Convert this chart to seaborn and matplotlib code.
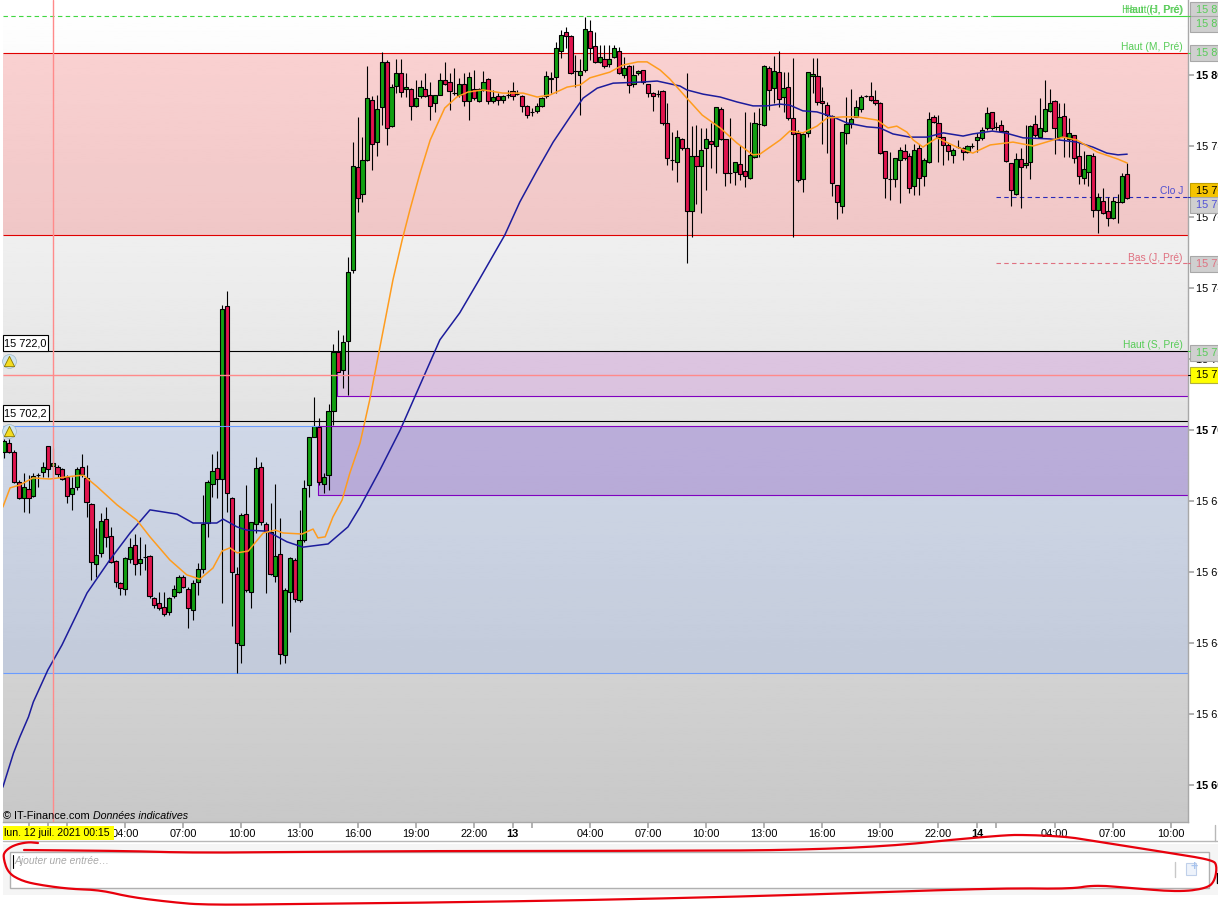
import numpy as np
import matplotlib
matplotlib.use("Agg")
import matplotlib.pyplot as plt
from matplotlib.patches import Rectangle
import seaborn as sns

# All prices are points above this base
BASE = 15000

open_ = [
693.9,696.4,693.9,685.3,680.8,683.4,681.5,687.2,688.1,695.6,
689.9,689.7,688.9,686.9,681.9,684.0,689.7,686.6,679.1,662.2,
665.3,675.0,670.0,663.2,656.8,655.1,663.6,667.7,662.6,664.1,
664.6,652.6,651.2,650.2,648.6,653.1,654.5,658.7,655.1,649.2,
657.3,660.8,673.7,684.8,689.2,686.1,735.0,680.9,659.3,639.3,
676.2,654.3,673.4,689.7,673.4,671.4,658.8,665.0,636.5,654.3,
663.3,652.0,668.9,684.4,698.1,700.8,684.7,687.2,705.3,722.0,
716.9,725.0,745.0,774.0,766.4,776.0,792.9,781.0,790.9,803.6,
785.5,797.0,800.5,796.0,796.0,791.4,794.0,796.0,794.5,792.0,
794.5,798.5,797.9,794.8,794.5,797.4,792.6,796.1,792.6,795.7,
798.8,792.6,794.0,792.9,794.4,795.4,794.7,794.0,791.4,789.7,
790.0,791.2,794.0,798.8,799.3,806.9,812.0,810.9,801.0,799.9,
801.3,812.3,808.1,803.6,804.4,803.0,805.0,806.9,799.9,802.4,
797.4,800.5,801.3,797.4,794.8,794.6,795.4,786.4,776.0,775.4,
781.9,779.3,761.6,777.1,774.3,779.3,781.3,779.9,790.3,781.9,
772.3,772.8,774.8,772.9,770.9,776.8,786.2,785.8,801.9,796.2,
800.8,793.7,796.5,787.8,783.6,770.6,783.6,799.6,799.6,792.6,
791.5,788.4,769.0,763.0,783.6,786.1,788.1,790.3,794.0,794.0,
792.9,792.0,778.5,770.7,770.6,776.0,778.5,777.1,768.6,779.3,
771.5,775.4,788.1,786.4,782.4,780.2,777.6,779.7,779.3,778.4,
779.9,781.6,782.2,785.0,789.5,785.3,785.8,784.1,775.1,766.6,
776.2,774.6,775.4,786.1,782.4,784.3,790.0,792.6,782.4,788.4,
781.9,783.0,777.1,770.9,772.6,777.1,761.9,764.4,761.6,759.6,
764.3,764.1,772.0]

close = [
697.0,693.9,685.3,680.8,684.0,680.8,687.1,687.4,689.7,688.9,
690.6,687.5,686.2,681.5,683.6,688.9,687.5,679.6,662.7,664.7,
674.5,669.8,662.7,657.1,655.6,664.0,667.1,662.2,663.6,664.1,
653.1,650.6,649.8,648.1,652.6,655.1,658.7,655.7,649.8,656.8,
660.8,673.4,685.3,688.5,686.1,734.0,682.2,659.9,639.9,676.0,
654.8,674.0,689.2,674.0,671.6,659.3,664.4,636.8,654.8,663.9,
652.3,668.9,683.8,697.9,701.1,685.3,686.9,705.3,722.0,716.3,
724.7,744.4,774.5,765.4,776.0,793.4,780.5,790.3,803.8,785.0,
796.5,800.5,795.3,796.5,791.4,793.4,796.5,794.0,791.4,794.5,
798.5,797.4,795.4,794.8,797.4,792.6,799.3,793.4,796.0,797.9,
792.6,793.7,792.9,794.0,794.4,794.0,794.7,791.4,788.6,789.7,
791.2,793.4,799.6,799.1,807.5,811.4,810.9,800.5,801.0,801.0,
812.9,807.5,803.8,805.0,802.4,804.4,807.5,800.5,801.9,797.1,
799.9,801.0,797.9,794.8,794.0,794.6,786.4,776.5,776.0,782.4,
779.3,761.6,777.1,774.3,778.8,781.9,780.5,790.9,781.9,772.3,
772.3,775.4,772.0,771.5,777.4,786.4,786.2,802.5,795.9,801.0,
793.1,796.3,787.8,783.3,770.3,783.3,800.8,800.2,792.3,792.0,
788.6,769.5,764.1,783.9,786.1,787.5,790.9,793.9,794.0,792.9,
792.0,777.9,770.9,770.7,776.5,779.0,776.5,768.1,779.0,770.9,
776.0,787.5,786.9,782.4,780.2,778.5,779.0,779.7,778.2,779.9,
779.9,782.4,784.4,789.2,785.0,785.3,784.1,775.7,767.5,776.2,
774.0,775.1,785.5,783.0,785.0,790.3,792.0,785.0,788.1,782.4,
783.6,776.6,771.5,773.4,777.4,761.9,765.5,761.0,759.6,764.4,
764.3,771.5,765.3]

high = [
697.6,697.6,694.4,685.9,687.8,687.3,687.8,687.8,691.1,695.6,
694.8,690.1,689.2,687.3,686.9,689.7,693.2,690.1,679.3,672.3,
676.5,678.4,672.8,663.4,657.3,664.3,669.5,670.7,670.0,667.8,
664.8,653.0,654.3,654.3,653.0,656.3,659.2,659.2,655.9,657.7,
662.4,681.7,685.9,693.2,694.1,735.2,739.2,681.2,661.3,676.5,
684.5,674.2,692.3,691.1,674.2,679.3,684.7,675.1,655.4,664.3,
663.9,677.5,685.9,698.1,709.4,703.3,687.8,707.3,724.2,728.2,
726.8,748.8,781.0,788.3,782.6,802.5,794.1,794.3,806.4,804.2,
797.6,804.4,804.4,800.5,796.2,798.6,798.6,800.5,798.1,794.5,
800.5,803.6,800.5,801.9,799.1,800.6,800.9,801.4,796.2,801.1,
799.1,795.8,794.8,794.4,795.8,798.0,795.8,794.4,791.5,790.6,
792.0,793.9,801.1,800.9,809.4,812.7,813.4,811.2,805.6,804.4,
816.4,815.5,812.2,808.4,808.4,808.4,808.4,808.0,805.2,802.8,
802.8,801.4,801.4,797.6,795.3,795.8,795.8,792.0,784.0,784.5,
782.2,800.5,785.7,785.9,785.0,785.0,786.4,791.1,791.1,781.9,
787.8,775.6,780.3,789.7,786.9,789.7,790.6,802.8,802.4,805.4,
806.8,800.9,800.9,804.7,784.5,783.6,800.9,804.7,804.7,796.7,
792.5,788.7,769.0,784.0,793.9,796.0,793.0,794.4,794.4,798.0,
795.8,792.5,778.5,778.4,776.7,779.6,780.7,777.9,780.7,780.7,
776.5,789.5,788.7,788.7,782.6,780.8,779.3,781.7,779.8,780.3,
780.8,783.6,785.4,791.1,789.7,786.9,787.3,784.5,775.1,777.9,
779.3,785.9,785.9,788.7,793.4,798.6,796.0,792.9,792.0,792.0,
787.8,783.2,781.2,778.5,777.5,777.9,766.7,768.1,765.6,765.6,
766.5,772.3,775.1]

low = [
692.0,693.4,685.2,680.7,677.0,676.5,681.2,684.0,686.9,686.9,
686.9,686.9,685.9,679.3,677.5,683.1,686.9,675.6,657.7,658.7,
664.3,667.1,662.4,655.9,653.5,653.5,662.4,659.2,659.2,660.6,
652.6,649.8,649.3,647.6,647.9,652.6,654.0,655.4,644.1,646.5,
653.5,659.6,670.0,681.2,680.8,651.2,677.0,644.9,631.6,634.3,
654.5,649.8,670.9,673.2,654.2,659.2,657.3,634.1,634.3,643.2,
651.6,651.6,668.5,681.2,698.1,684.5,682.2,683.1,701.4,716.3,
711.7,709.9,744.1,761.5,764.3,775.9,773.2,777.2,785.9,780.3,
785.4,794.8,793.7,793.9,787.3,791.0,793.4,793.7,787.3,789.7,
794.4,797.2,790.1,794.4,793.7,791.3,787.3,792.9,792.4,795.5,
791.7,792.0,791.5,792.0,793.4,792.9,794.4,789.7,787.8,788.4,
789.2,790.9,793.4,794.8,794.8,804.7,807.5,800.3,796.7,788.7,
800.9,804.2,803.5,803.3,801.9,802.3,804.7,800.3,799.1,794.8,
796.5,800.0,797.6,793.9,789.8,793.9,785.9,774.6,773.2,769.9,
778.9,747.0,754.5,763.8,761.0,767.6,773.7,772.3,781.7,768.8,
769.5,769.0,770.4,768.5,770.6,776.5,777.0,785.6,790.1,792.0,
791.1,789.7,787.3,754.3,770.0,767.1,782.6,794.8,791.5,780.7,
777.9,766.0,759.5,761.0,780.7,785.0,788.1,789.7,793.7,792.7,
791.5,777.7,765.3,764.8,768.5,764.0,776.1,766.7,766.1,766.2,
768.8,775.1,786.4,775.6,774.6,776.1,775.1,779.3,776.1,777.9,
779.3,778.4,781.7,784.5,784.5,784.5,784.0,775.5,763.1,766.2,
762.4,773.7,770.7,782.6,782.2,784.0,789.7,777.8,782.0,777.0,
777.0,775.3,769.3,769.3,768.6,759.9,755.4,760.9,757.6,759.5,
758.4,764.0,765.0]

# slow moving average (bar position, price above BASE)
slow_bar = [-0.3,1.9,3.2,5,6,9,11.9,17.1,21.8,26,30.1,35.7,39,43.9,45.2,48.1,50.1,54.3,58.4,61.7,66.9,
            71,73.5,77.6,81.8,85.9,90,94.1,98.1,103.4,106.5,110.1,113.4,116.9,119.6,122.5,125.8,131.4,134.9,139.6,141,
            144.4,147.9,151.4,154.7,157.6,160.3,162.3,165,167.9,171.2,174.1,178.2,180.9,183.6,187.1,190.6,194,198.1,200.1,204.1,
            206.8,210.5,216,221.6,224.9,227.8,230.1,232]
slow_val = [599.4,609.0,613.5,619.2,623.4,632.4,639.4,654.1,663.4,671.0,677.5,676.3,673.8,673.8,674.9,672.7,671.8,671.5,668.5,667.0,667.9,
            672.7,678.3,688.7,700.0,712.7,725.4,733.0,742.3,754.9,764.2,773.2,781.1,788.2,793.5,796.3,797.7,798.0,798.3,796.9,795.8,
            794.6,793.8,792.4,791.3,791.3,791.8,791.5,789.9,789.6,788.2,786.5,785.4,785.1,783.4,782.5,782.5,783.7,782.8,783.4,784.2,
            783.7,782.3,782.0,781.1,779.7,778.0,777.5,777.7]

# fast moving average (bar position, price above BASE)
fast_bar = [-0.3,1.2,3.2,5.9,9.4,13,16.3,19.2,23.3,27.4,30.1,34.2,37.7,40.4,43.1,45,46.6,48.1,50.4,53.5,
            56,57.6,61.5,63.8,64.8,66.3,67.9,69.8,71.4,73.5,75.5,78.7,80.3,82.2,83.8,85.9,88,91,93.5,95.8,
            98.9,103,107.2,110.1,112.8,116.3,119,121,125.1,127.8,130.9,132.8,135.5,137.5,141,144.2,147.9,151.4,154.7,156.1,
            160.3,162.3,165,167.9,170,173.3,176.2,180.3,182.6,184.4,186.5,187.8,189.8,192.7,196.8,200.1,203.7,208.4,212.6,218.7,
            221.6,225.8,230.1,232]
fast_val = [678.3,683.7,684.5,686.5,686.2,686.8,687.3,684.0,678.9,674.6,669.9,663.4,659.2,658.0,661.1,665.9,666.8,665.4,665.9,671.0,
            671.8,671.0,670.7,672.1,669.6,669.9,675.5,680.3,687.9,696.3,708.5,731.0,742.3,753.5,762.0,772.4,781.7,790.7,793.8,795.2,
            795.8,794.9,794.9,793.8,794.4,796.6,797.2,799.2,800.8,802.8,803.7,803.7,801.4,798.9,793.5,788.7,785.1,780.8,777.5,777.7,
            781.7,784.2,783.7,785.6,787.9,788.2,788.2,787.3,785.1,785.6,783.9,781.7,779.7,782.3,779.7,778.0,780.3,781.1,780.0,782.5,
            781.7,778.3,776.3,775.2]

# x axis labels: hour counted from 12 July 00:00
tick_hours = [-1, 0, 1, 4, 7, 10, 13, 16, 19, 22, 24, 25, 28, 31, 34, 37, 40, 43, 46, 48, 49, 52, 55, 58]
tick_names = ["", "", "", "04:00", "07:00", "10:00", "13:00", "16:00", "19:00", "22:00", "13", "", "04:00", "07:00",
              "10:00", "13:00", "16:00", "19:00", "22:00", "14", "", "04:00", "07:00", "10:00"]
BOLD_TIME = {"13", "14"}

price_ticks = [15800, 15780, 15760, 15740, 15720, 15700, 15680, 15660, 15640, 15620, 15600]
BOLD_PRICE = {15800, 15700, 15600}

# horizontal levels
LEVEL_TOP = 15816.6
LEVEL_RED_HI = 15806.2
LEVEL_RED_LO = 15754.9
LEVEL_CLO = 15765.6
LEVEL_BAS = 15747.0
LEVEL_A = 15722.25
LEVEL_CROSS = 15715.5
LEVEL_B = 15702.5
LEVEL_BLUE_HI = 15701.1
LEVEL_BLUE_LO = 15631.5
RECT1_LO = 15709.6
RECT2_LO = 15681.7

W, H = 1218, 906
PXL, PXR, PXB = 3, 1188, 822
BAR0, BARW = 4.3, 4.84

sns.set_theme(style="white")
plt.rcParams["font.family"] = ["Liberation Sans", "DejaVu Sans"]
FS = 7.9
FS_R = 7.4

fig = plt.figure(figsize=(W / 100, H / 100), dpi=100, facecolor="white")
ax = fig.add_axes([PXL / W, 1 - PXB / H, (PXR - PXL) / W, PXB / H])
x0, x1 = (PXL - BAR0) / BARW, (PXR - BAR0) / BARW
y_top = 15800 + 75 / 3.55
y_bot = 15800 - (PXB - 75) / 3.55
ax.set_xlim(x0, x1)
ax.set_ylim(y_bot, y_top)

# background gradient white -> grey
grad = np.linspace(1.0, 200 / 255, 512)[:, None]
ax.imshow(grad, cmap="gray", vmin=0, vmax=1, extent=[x0, x1, y_bot, y_top], aspect="auto", zorder=0, origin="upper")


def band(lo, hi, color, alpha, xs=x0):
    ax.add_patch(Rectangle((xs, lo), x1 - xs, hi - lo, facecolor=color, alpha=alpha, edgecolor="none", zorder=1))


band(LEVEL_RED_LO, LEVEL_RED_HI, (0.95, 0, 0), 0.17)
band(LEVEL_BLUE_LO, LEVEL_BLUE_HI, (135 / 255, 175 / 255, 1), 0.20)
rect1_x = (337 - BAR0) / BARW
rect2_x = (318 - BAR0) / BARW
band(RECT1_LO, LEVEL_A, (190 / 255, 94 / 255, 206 / 255), 0.25, rect1_x)
band(RECT2_LO, LEVEL_BLUE_HI, (138 / 255, 76 / 255, 187 / 255), 0.30, rect2_x)

LW = 0.8
PURPLE = "#8000c0"
ax.plot([rect1_x, rect1_x, x1], [LEVEL_A, RECT1_LO, RECT1_LO], color=PURPLE, lw=LW, zorder=2)
ax.plot([rect2_x, rect2_x, x1], [LEVEL_BLUE_HI, RECT2_LO, RECT2_LO], color=PURPLE, lw=LW, zorder=2)

ax.hlines([LEVEL_RED_HI, LEVEL_RED_LO], x0, x1, color="#e00000", lw=LW, zorder=2)
ax.hlines([LEVEL_BLUE_LO], x0, x1, color="#6a9cff", lw=LW, zorder=2)
ax.hlines([LEVEL_A, LEVEL_B], x0, x1, color="black", lw=LW, zorder=2)
split = (992 - BAR0) / BARW
ax.hlines(LEVEL_TOP, x0, split, color="#40d840", lw=LW, linestyles=(0, (4, 3)), zorder=2)
ax.hlines(LEVEL_TOP, split, x1, color="#40d840", lw=LW, zorder=2)
dash_x = (996 - BAR0) / BARW
ax.hlines(LEVEL_CLO, dash_x, x1, color="#2a2ab8", lw=LW, linestyles=(0, (4, 3)), zorder=2)
ax.hlines(LEVEL_BAS, dash_x, x1, color="#e07080", lw=LW, linestyles=(0, (4, 3)), zorder=2)

# candles
idx = np.arange(len(open_))
o = BASE + np.array(open_)
c = BASE + np.array(close)
hi = BASE + np.array(high)
lo = BASE + np.array(low)
cols = np.where(c >= o, "#12a012", "#e0154e")
ax.vlines(idx, lo, hi, color="black", lw=0.8, zorder=3)
ax.bar(idx, np.abs(c - o), bottom=np.minimum(o, c), width=0.86, color=cols, edgecolor="black", linewidth=0.8, zorder=4)

# moving averages
sns.lineplot(x=slow_bar, y=BASE + np.array(slow_val), color="#1c1c9c", lw=1.1, ax=ax, sort=False, estimator=None, zorder=5)
sns.lineplot(x=fast_bar, y=BASE + np.array(fast_val), color="#ff9c1e", lw=1.1, ax=ax, sort=False, estimator=None, zorder=6)

# crosshair and blue line on top
ax.axvline(10, color="#ff8a8a", lw=1.0, zorder=7)
ax.hlines(LEVEL_CROSS, x0, x1, color="#ff8a8a", lw=1.0, zorder=7)
ax.hlines(LEVEL_BLUE_HI, x0, rect2_x, color="#6a9cff", lw=LW, zorder=7)
ax.hlines(LEVEL_BLUE_HI, rect2_x, x1, color=PURPLE, lw=LW, zorder=7)

# axes furniture
ax.set_xlabel("")
ax.set_ylabel("")
for s in ("top", "left"):
    ax.spines[s].set_visible(False)
for s in ("bottom", "right"):
    ax.spines[s].set_color("#a8a8a8")
    ax.spines[s].set_linewidth(1.0)
ax.xaxis.tick_bottom()
ax.yaxis.tick_right()
ax.set_xticks([9 + 4 * h for h in tick_hours])
ax.set_xticklabels(tick_names)
ax.set_yticks(price_ticks)
ax.set_yticklabels([f"{p // 1000} {p % 1000:03d}" for p in price_ticks])
ax.tick_params(axis="x", length=4, color="#a8a8a8", labelsize=FS, pad=1, labelcolor="black")
ax.tick_params(axis="y", length=4, color="#a8a8a8", labelsize=FS, pad=1.5, labelcolor="black")
for t, n in zip(ax.get_xticklabels(), tick_names):
    if n in BOLD_TIME:
        t.set_fontweight("bold")
for t, p in zip(ax.get_yticklabels(), price_ticks):
    if p in BOLD_PRICE:
        t.set_fontweight("bold")
ax.grid(False)

# overlay in figure pixels: screen furniture
ov = fig.add_axes([0, 0, 1, 1], facecolor="none", zorder=10)
ov.set_xlim(0, W)
ov.set_ylim(H, 0)
ov.axis("off")

GREEN_T = "#58cc58"


def rbox(y, txt, face, tcol, edge="#a8a8a8"):
    ov.add_patch(Rectangle((1190, y - 8), 34, 16, facecolor=face, edgecolor=edge, lw=0.8))
    ov.text(1195.5, y, txt, fontsize=FS, color=tcol, va="center", ha="left")


rbox(10, "15 81", "#cfcfcf", GREEN_T)
rbox(24, "15 81", "#cfcfcf", GREEN_T)
rbox(53, "15 80", "#cfcfcf", GREEN_T)
rbox(191, "15 76", "#f5c400", "black", "#c0a000")
rbox(205, "15 76", "#cfcfcf", "#5050d8")
rbox(264, "15 74", "#cfcfcf", "#e07080")
rbox(353, "15 72", "#cfcfcf", GREEN_T)
rbox(375, "15 71", "#ffff00", "black", "#b0b040")
for ty, tc in ((16, "#40d840"), (53, "#40d840"), (197, "#2a2ab8"), (263, "#e07080"), (351, "#40d840"), (375, "black")):
    ov.plot([1188, 1190], [ty, ty], color=tc, lw=0.8)


def rlabel(y, txt, col):
    ov.text(1183, y, txt, fontsize=FS_R, color=col, va="center", ha="right")


rlabel(10, "Haut (J, Pré)", GREEN_T)
rlabel(10, "Haut (H, Pré)", GREEN_T)
rlabel(47, "Haut (M, Pré)", GREEN_T)
rlabel(191, "Clo J", "#5050d0")
rlabel(258, "Bas (J, Pré)", "#e07080")
rlabel(345, "Haut (S, Pré)", GREEN_T)


def lbox(y0, y1, xr, txt):
    ov.add_patch(Rectangle((3, y0), xr - 3, y1 - y0, facecolor="white", edgecolor="black", lw=0.8))
    ov.text(3.5, (y0 + y1) / 2, txt, fontsize=FS, color="black", va="center", ha="left")


lbox(335, 351, 48, "15 722,0")
lbox(405, 421, 49, "15 702,2")
for by in (361, 431):
    ov.scatter([9], [by], s=100, color="#cfe3ee", edgecolor="#9fb8c8", lw=0.5, zorder=3)
    ov.scatter([9], [by - 0.5], s=55, marker="^", color="#f4dc20", edgecolor="#8a7800", lw=0.6, zorder=4)

ov.text(3, 816, "© IT-Finance.com", fontsize=FS, color="black", va="center", ha="left")
ov.text(93, 816, "Données indicatives", fontsize=7.7, style="italic", color="black", va="center", ha="left")

ov.add_patch(Rectangle((3, 826), 111, 14, facecolor="#ffff00", edgecolor="none", zorder=3))
ov.text(3.5, 833.5, "lun. 12 juil. 2021 00:15", fontsize=7.6, color="black", va="center", ha="left", zorder=4)

# comment area
ov.add_patch(Rectangle((3, 844), W, 51, facecolor="#f5f5f5", edgecolor="none", zorder=1))
ov.plot([3, W], [841, 841], color="#b8b8b8", lw=1, zorder=1)
ov.plot([1215, 1215], [825, 841], color="#b8b8b8", lw=1, zorder=1)
ov.plot([1217, 1217], [873, 883], color="black", lw=1, zorder=1)
ov.add_patch(Rectangle((10, 851.5), 1199, 36.5, facecolor="white", edgecolor="#b0b0b0", lw=1, zorder=2))
ov.plot([13, 13], [855, 868], color="black", lw=0.8, zorder=3)
ov.text(15, 861, "Ajouter une entrée…", fontsize=FS_R, style="italic", color="#a8a8a8", va="center", ha="left", zorder=3)
ov.plot([1174.5, 1174.5], [862, 877], color="#c8c8c8", lw=1, zorder=3)
ov.add_patch(Rectangle((1186, 863), 10, 12, facecolor="#eef3fb", edgecolor="#c0d0ea", lw=0.8, zorder=3))
ov.text(1194, 867, "+", fontsize=9, fontweight="bold", color="#a8c4ee", va="center", ha="center", zorder=4)

# hand-drawn red outline, rounded corners
scrawl_x = [38, 28, 14, 5, 3, 8, 22, 40, 70, 100, 130, 170, 205, 300, 400, 600, 800, 1000, 1070, 1095, 1130, 1180, 1208, 1215, 1217,
            1213, 1170, 1100, 1070, 1033, 1000, 850, 600, 400, 200, 130, 24]
scrawl_y = [843, 842, 845, 851, 857, 873, 881, 885, 889, 890, 897, 902, 905, 904, 903, 900, 895, 888, 889, 885, 888, 892, 888, 880, 866,
            860, 853, 842, 837, 835, 835, 850, 851, 851, 853, 851, 850]
pts = np.column_stack([scrawl_x, scrawl_y]).astype(float)
for _ in range(3):
    q = 0.75 * pts[:-1] + 0.25 * pts[1:]
    r = 0.25 * pts[:-1] + 0.75 * pts[1:]
    pts = np.vstack([pts[:1], np.column_stack([q, r]).reshape(-1, 2), pts[-1:]])
ov.plot(pts[:, 0], pts[:, 1], color="#e8000c", lw=1.6, zorder=8, solid_capstyle="round")

fig.savefig("out.png", dpi=100)
